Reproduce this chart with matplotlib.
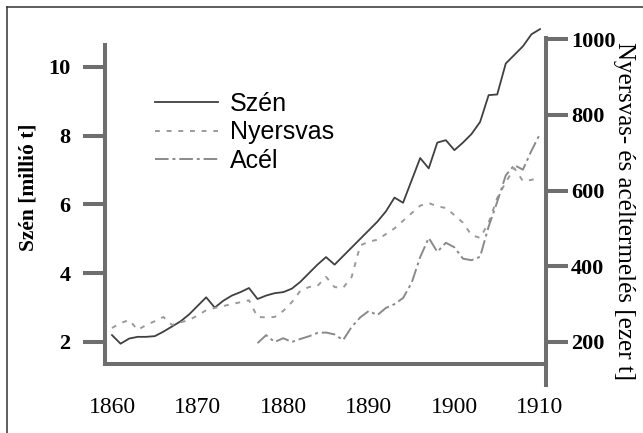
import matplotlib
matplotlib.use("Agg")
import matplotlib.pyplot as plt
from matplotlib.lines import Line2D

# Termelés 1860-1910
years = list(range(1860, 1911))

# Szén [millió t]
szen = [2.2, 1.95, 2.1, 2.15, 2.15, 2.17, 2.3, 2.45, 2.6, 2.8,
        3.05, 3.3, 3.0, 3.2, 3.35, 3.45, 3.57, 3.25, 3.35, 3.42,
        3.45, 3.55, 3.75, 4.0, 4.25, 4.47, 4.25, 4.5, 4.75, 5.0,
        5.25, 5.5, 5.8, 6.2, 6.05, 6.7, 7.35, 7.05, 7.8, 7.87,
        7.58, 7.8, 8.05, 8.4, 9.18, 9.2, 10.1, 10.35, 10.6, 10.95,
        11.1]

# Nyersvas [ezer t]
nyersvas = [237, 250, 258, 232, 245, 255, 266, 245, 252, 258,
            270, 284, 290, 295, 300, 305, 310, 266, 265, 266,
            282, 305, 335, 345, 348, 372, 345, 343, 372, 455,
            465, 470, 485, 500, 520, 540, 560, 567, 558, 554,
            535, 515, 482, 475, 515, 580, 622, 659, 625, 628,
            635]

# Acél [ezer t], 1877-től
acel_years = list(range(1877, 1911))
acel = [197, 218, 200, 210, 200, 208, 215, 224, 225, 220,
        205, 240, 265, 282, 271, 290, 300, 316, 356, 424,
        475, 438, 462, 450, 420, 416, 425, 505, 570, 640,
        667, 655, 705, 750]

xticks = [1860, 1870, 1880, 1890, 1900, 1910]
yticks_left = [2, 4, 6, 8, 10]
yticks_right = [200, 400, 600, 800, 1000]

W, H = 643, 433
spine_col = '#6e6e6e'
serif = 'Liberation Serif'

fig = plt.figure(figsize=(W / 100, H / 100), dpi=100)
ax = fig.add_axes([105 / W, 1 - 364 / H, (546 - 105) / W, (364 - 25) / H])
ax2 = ax.twinx()

ax.plot(years, szen, color='#404040', lw=1.3, label='Szén')
l_ny, = ax2.plot(years, nyersvas, color='#9a9a9a', lw=1.4,
                 dashes=(2.5, 3.5), label='Nyersvas')
l_ac, = ax2.plot(acel_years, acel, color='#8a8a8a', lw=1.4,
                 dashes=(7, 2, 1.5, 2), label='Acél')

ax.set_xlim(1859.18, 1910.7)
ax.set_ylim(1.36, 11.22)
ax2.set_ylim(141.9, 1037)

# tengelyek
for s in ['top', 'right']:
    ax.spines[s].set_visible(False)
for s in ['top', 'left', 'bottom']:
    ax2.spines[s].set_visible(False)
for sp in [ax.spines['left'], ax.spines['bottom'], ax2.spines['right']]:
    sp.set_color(spine_col)
    sp.set_linewidth(2.9)
ax.spines['left'].set_bounds(1.36, 10.64)
ax2.spines['right'].set_bounds(86, 1003)

ax.set_yticks(yticks_left)
ax.tick_params(axis='y', length=16, width=2.9, color=spine_col, pad=9)
for t in ax.get_yticklabels():
    t.set_fontfamily(serif)
    t.set_fontweight('bold')
    t.set_fontsize(16)

ax2.set_yticks(yticks_right)
ax2.tick_params(axis='y', length=16, width=2.9, color=spine_col, pad=2)
for t in ax2.get_yticklabels():
    t.set_fontfamily(serif)
    t.set_fontweight('bold')
    t.set_fontsize(16)

ax.set_xticks(xticks)
ax.set_xticks([1870, 1880, 1890, 1900], minor=True)
ax.tick_params(axis='x', which='major', length=0, pad=24)
ax.tick_params(axis='x', which='minor', length=10, width=2.9, color=spine_col)
for t in ax.get_xticklabels():
    t.set_fontfamily(serif)
    t.set_fontsize(17)

fig.text(28 / W, 1 - 187 / H, 'Szén [millió t]', rotation=90, ha='center',
         va='center', family=serif, fontweight='bold', fontsize=15.5)
fig.text(624 / W, 1 - 211 / H, 'Nyersvas- és acéltermelés [ezer t]',
         rotation=270, ha='center', va='center', family=serif, fontsize=18)

handles = [ax.get_lines()[0], l_ny, l_ac]
leg = ax.legend(handles=handles, loc='upper left',
                bbox_to_anchor=(155 / W, 1 - 92 / H),
                bbox_transform=fig.transFigure, frameon=False,
                prop={'family': 'Liberation Sans', 'size': 18},
                handlelength=2.5, handletextpad=0.5, labelspacing=0.17,
                borderpad=0, borderaxespad=0)

# keret
fig.add_artist(Line2D([7 / W, 7 / W], [0, 1 - 7 / H], color='#333333', lw=1.1))
fig.add_artist(Line2D([7 / W, 1], [1 - 7 / H, 1 - 7 / H], color='#333333', lw=1.1))

fig.savefig('out.png', dpi=100)
